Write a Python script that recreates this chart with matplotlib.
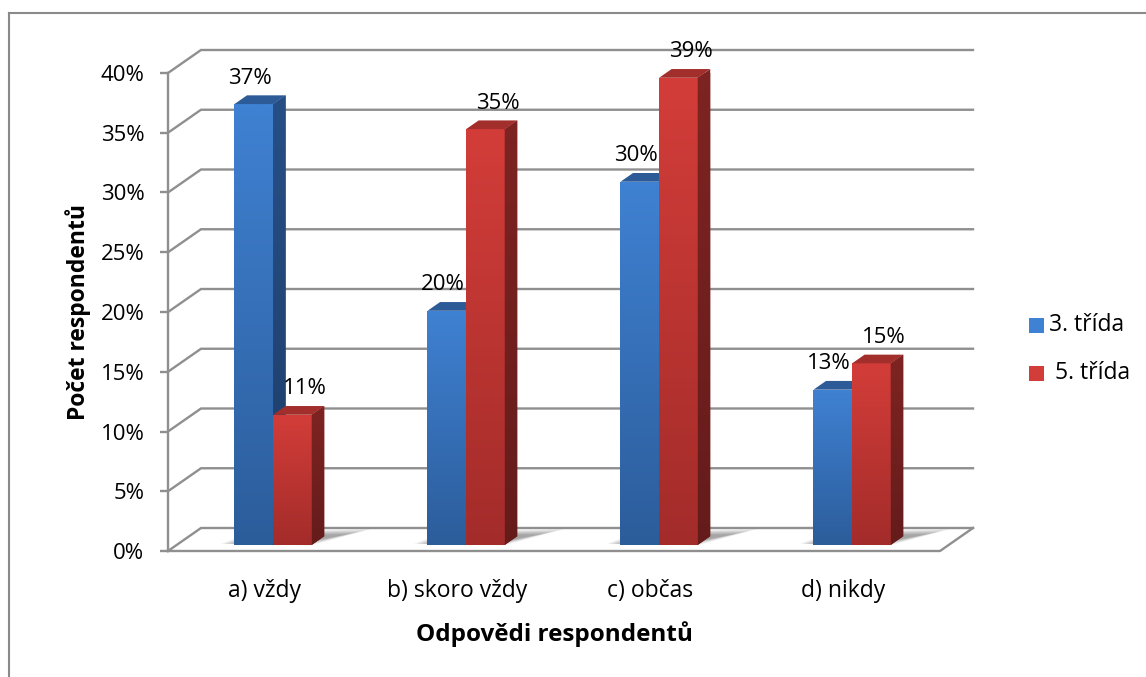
import numpy as np
import matplotlib
matplotlib.use("Agg")
import matplotlib.pyplot as plt
from matplotlib.patches import Polygon, Rectangle
from matplotlib.lines import Line2D
from matplotlib.colors import to_rgb

plt.rcParams['font.family'] = ['Open Sans', 'DejaVu Sans']

# ---- data ----
categories = ["a) vždy", "b) skoro vždy", "c) občas", "d) nikdy"]
series_names = ["3. třída", "5. třída"]
trida3 = [36.9, 19.6, 30.4, 13.0]
trida5 = [10.9, 34.8, 39.1, 15.2]
yticks = [0, 5, 10, 15, 20, 25, 30, 35, 40]
ytick_labels = ["0%", "5%", "10%", "15%", "20%", "25%", "30%", "35%", "40%"]
xlabel = "Odpovědi respondentů"
ylabel = "Počet respondentů"

W, H = 1146, 677
fig = plt.figure(figsize=(W / 100, H / 100), dpi=100)
ax_l, ax_r, ax_t, ax_b = 168, 940, 73, 551
ax = fig.add_axes([ax_l / W, (H - ax_b) / H, (ax_r - ax_l) / W, (ax_b - ax_t) / H])
XL = (-0.5, 3.5)
YL = (0, 40)
ax.set_xlim(*XL)
ax.set_ylim(*YL)

ppx = (ax_r - ax_l) / (XL[1] - XL[0])
ppy = (ax_b - ax_t) / (YL[1] - YL[0])
DX, DY = 33, 23  # full depth in pixels


def P(x, y, f):
    """point at depth fraction f (0=front, 1=back) in data coords"""
    return (x + DX * f / ppx, y + DY * f / ppy)


GRID = "#8f8f8f"
LW = 1.7
FS = 16

# back wall grid lines + side diagonals
for v in yticks:
    pts = [P(XL[0], v, 0), P(XL[0], v, 1), P(XL[1], v, 1)]
    ax.add_line(Line2D([p[0] for p in pts], [p[1] for p in pts], color=GRID,
                       lw=LW, clip_on=False, zorder=1, solid_joinstyle='miter'))
# floor front & right edge
fl = [P(XL[0], 0, 0), P(XL[1], 0, 0), P(XL[1], 0, 1)]
ax.add_line(Line2D([p[0] for p in fl], [p[1] for p in fl], color=GRID, lw=LW,
                   clip_on=False, zorder=1))

for s in ["top", "right", "bottom"]:
    ax.spines[s].set_visible(False)
ax.spines["left"].set_color(GRID)
ax.spines["left"].set_linewidth(LW)
ax.spines["left"].set_zorder(1)

ax.set_yticks(yticks)
ax.set_yticklabels(ytick_labels)
ax.tick_params(axis='y', length=6, width=LW, color=GRID, pad=11, labelsize=FS,
               labelcolor="#000000")
ax.set_xticks(range(len(categories)))
ax.set_xticklabels(categories)
ax.tick_params(axis='x', length=0, pad=20, labelsize=FS + 0.5)
ax.set_xlabel(xlabel, fontsize=FS + 1.5, fontweight='bold', labelpad=13)
ax.set_ylabel(ylabel, fontsize=FS + 0.5, fontweight='bold', labelpad=7)
ax.patch.set_visible(False)

# ---- bars ----
BW = 0.2          # bar width (data units)
F0 = 0.26         # front depth fraction of bars
BD = 0.38         # bar depth fraction

colors = {
    0: dict(ft="#3f81d2", fb="#2c5d9b", st="#274f86", sb="#1e3d68", top="#2d5b97"),
    1: dict(ft="#d33d39", fb="#a32c2a", st="#7e2422", sb="#641c1b", top="#a22f2c"),
}
label_shift = [-10, 6]   # horizontal label offset per series (pixels)


def grad_img(c_top, c_bot, n=64):
    a = np.array(to_rgb(c_top))
    b = np.array(to_rgb(c_bot))
    t = np.linspace(0, 1, n)[:, None]
    return (a * (1 - t) + b * t)[:, None, :]


def grad_poly(verts, c_top, c_bot, z):
    poly = Polygon(verts, closed=True, facecolor=c_top, edgecolor='none',
                   clip_on=False, zorder=z)
    ax.add_patch(poly)
    xs = [v[0] for v in verts]
    ys = [v[1] for v in verts]
    im = ax.imshow(grad_img(c_top, c_bot), extent=(min(xs), max(xs), min(ys), max(ys)),
                   origin='upper', aspect='auto', interpolation='bilinear', zorder=z + 0.01)
    im.set_clip_path(poly)
    return poly


series = [trida3, trida5]

# soft shadows on floor
for i in range(len(categories)):
    x0 = i - BW
    x1 = i + BW
    for k in range(8):
        e = 0.012 * k
        sh = [P(x0 - 0.08 + e, 0, F0 + 0.05), P(x1 + 0.0 - e, 0, F0 - 0.02 + 0.01 * k),
              P(x1 + 0.19 - e, 0, F0 + BD + 0.32 - 0.035 * k),
              P(x0 + 0.0 + e, 0, F0 + BD + 0.22 - 0.025 * k)]
        ax.add_patch(Polygon(sh, closed=True, facecolor="#000000", alpha=0.05,
                             edgecolor='none', clip_on=False, zorder=2))

z = 3
for i in range(len(categories)):
    for s, vals in enumerate(series):
        v = vals[i]
        c = colors[s]
        x0 = i - BW + s * BW
        x1 = x0 + BW
        front = [P(x0, 0, F0), P(x1, 0, F0), P(x1, v, F0), P(x0, v, F0)]
        side = [P(x1, 0, F0), P(x1, 0, F0 + BD), P(x1, v, F0 + BD), P(x1, v, F0)]
        top = [P(x0, v, F0), P(x1, v, F0), P(x1, v, F0 + BD), P(x0, v, F0 + BD)]
        grad_poly(front, c["ft"], c["fb"], z)
        grad_poly(side, c["st"], c["sb"], z + 0.1)
        ax.add_patch(Polygon(top, closed=True, facecolor=c["top"], edgecolor='none',
                             clip_on=False, zorder=z + 0.2))
        lx, ly = P((x0 + x1) / 2, v, F0 + BD / 2)
        ax.annotate(f"{round(v):d}%", xy=(lx, ly), xytext=(label_shift[s], 16),
                    textcoords='offset pixels', ha='center', va='baseline',
                    fontsize=FS, color="#000000", zorder=10, annotation_clip=False)
        z += 1

ax.set_xlim(*XL)
ax.set_ylim(*YL)

# ---- legend ----
leg_colors = [colors[0]["ft"], colors[1]["ft"]]
leg_y = [325, 373]
leg_text = ["3. třída", " 5. třída"]
for c, yy, t in zip(leg_colors, leg_y, leg_text):
    r = Rectangle((1029 / W, (H - yy - 7.5) / H), 15 / W, 15 / H, transform=fig.transFigure,
                  facecolor=c, edgecolor='none')
    fig.add_artist(r)
    fig.text(1049 / W, (H - yy) / H, t, fontsize=FS + 0.5, va='center', ha='left')

# ---- outer frame (left & top visible) ----
fig.add_artist(Line2D([8.5 / W, 8.5 / W], [0, (H - 13) / H], color="#8a8a8a", lw=1.5,
                      transform=fig.transFigure))
fig.add_artist(Line2D([8.5 / W, 1], [(H - 13) / H, (H - 13) / H], color="#8a8a8a", lw=1.5,
                      transform=fig.transFigure))

fig.savefig("out.png", dpi=100)
